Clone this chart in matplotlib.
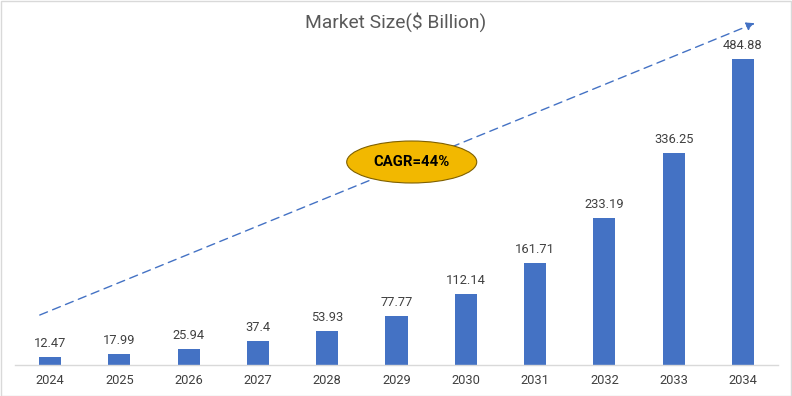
import matplotlib
matplotlib.use("Agg")
import matplotlib.pyplot as plt
from matplotlib.patches import Ellipse, Rectangle

years = ["2024", "2025", "2026", "2027", "2028", "2029", "2030", "2031", "2032", "2033", "2034"]
values = [12.47, 17.99, 25.94, 37.4, 53.93, 77.77, 112.14, 161.71, 233.19, 336.25, 484.88]
title = "Market Size($ Billion)"
cagr_text = "CAGR=44%"

plt.rcParams['font.family'] = ['Roboto', 'DejaVu Sans']

W, H = 792, 396
fig = plt.figure(figsize=(W / 100, H / 100), dpi=100)
ax = fig.add_axes([15.35 / W, (H - 365) / H, (777.6 - 15.35) / W, (365 - 18) / H])

x = list(range(len(years)))
bars = ax.bar(x, values, width=0.32, color="#4472C4", zorder=2)
for xi, v in zip(x, values):
    ax.annotate(f"{v:g}", (xi, v), xytext=(0, 5), textcoords="offset points",
                ha="center", va="bottom", fontsize=9.3, color="#404040")

ax.set_xlim(-0.5, len(years) - 0.5)
ax.set_ylim(0, 550)
ax.set_xticks(x)
ax.set_xticklabels(years, fontsize=9.3, color="#404040")
ax.tick_params(axis="x", length=0, pad=6.5)
ax.set_yticks([])
for s in ["top", "right", "left"]:
    ax.spines[s].set_visible(False)
ax.spines["bottom"].set_color("#D9D9D9")
ax.spines["bottom"].set_linewidth(1)

# trend arrow
ax.annotate("", xy=(0.970, 0.985), xytext=(0.032, 0.144), xycoords="axes fraction",
            arrowprops=dict(arrowstyle="-|>", color="#4472C4", lw=1, linestyle=(0, (6, 4)),
                            mutation_scale=12, shrinkA=0, shrinkB=0), zorder=3)

# CAGR ellipse
ell = Ellipse((0.520, 0.585), 0.1706, 0.121, transform=ax.transAxes,
              facecolor="#F2B800", edgecolor="#7F6000", lw=0.8, zorder=4)
ax.add_patch(ell)
ax.text(0.520, 0.585, cagr_text, transform=ax.transAxes, ha="center", va="center",
        fontsize=10.7, fontweight="bold", color="black", zorder=5)

fig.text(0.5, 1 - 22 / H, title, ha="center", va="center", fontsize=13.8, color="#595959")

fig.patches.append(Rectangle((0.5 / W, 0.5 / H), 1 - 1.5 / W, 1 - 1.5 / H, transform=fig.transFigure,
                             fill=False, edgecolor="#D9D9D9", lw=1))

fig.savefig("out.png", dpi=100)
